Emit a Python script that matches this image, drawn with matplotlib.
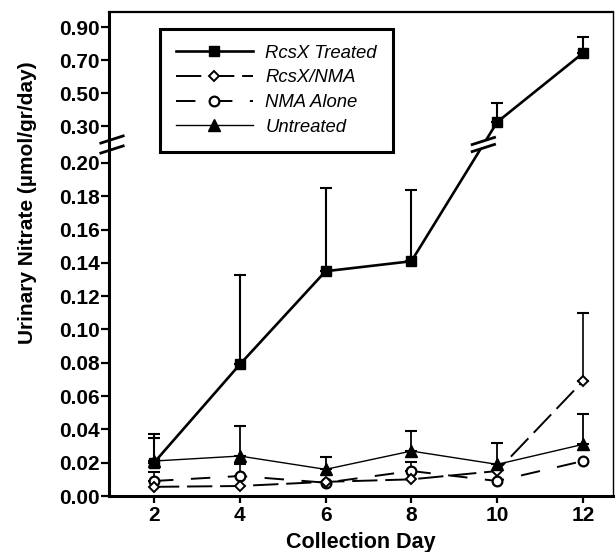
import numpy as np
import matplotlib
matplotlib.use("Agg")
import matplotlib.pyplot as plt
from matplotlib.lines import Line2D
from matplotlib.patches import Polygon

plt.rcParams['font.family'] = ['Liberation Sans', 'DejaVu Sans']

nan = np.nan

# values (upper end of each error bar given as *_top)
days = [2, 4, 6, 8, 10, 12]
treated = [0.020, 0.079, 0.135, 0.141, 0.324, 0.742]
treated_top = [0.037, 0.133, 0.185, 0.184, 0.440, 0.840]
rcsx_nma = [0.0055, 0.006, 0.0085, 0.010, 0.015, 0.069]
rcsx_nma_top = [nan, nan, nan, nan, nan, 0.110]
nma_alone = [0.009, 0.012, 0.008, 0.015, 0.009, 0.021]
nma_alone_top = [0.0144, 0.019, nan, 0.0205, nan, nan]
untreated = [0.021, 0.024, 0.016, 0.027, 0.019, 0.031]
untreated_top = [0.035, 0.042, 0.0236, 0.039, 0.032, 0.049]

yticks_low = [0.00, 0.02, 0.04, 0.06, 0.08, 0.10, 0.12, 0.14, 0.16, 0.18, 0.20]
yticks_high = [0.30, 0.50, 0.70, 0.90]

# broken axis: 0-0.20 linear, squeeze 0.20-0.30 into a gap, 0.30+ at 1/10 scale
LOW, HIGH = 0.20, 0.30
GAP = 0.0222
RATIO = 0.0991


def fwd(y):
    y = np.asarray(y, dtype=float)
    mid = LOW + (y - LOW) * (GAP / (HIGH - LOW))
    up = LOW + GAP + (y - HIGH) * RATIO
    return np.where(y <= LOW, y, np.where(y < HIGH, mid, up))


def inv(t):
    t = np.asarray(t, dtype=float)
    mid = LOW + (t - LOW) * ((HIGH - LOW) / GAP)
    up = HIGH + (t - LOW - GAP) / RATIO
    return np.where(t <= LOW, t, np.where(t < LOW + GAP, mid, up))


fig = plt.figure(figsize=(6.16, 5.52), dpi=100)
ax = fig.add_axes([109/616, 1 - 496/552, 504/616, 484/552])
ax.set_yscale('function', functions=(fwd, inv))
ax.set_xlim(0.951, 12.70)
ax.set_ylim(0, 0.991)


def err(vals, tops, lw, cap):
    v = np.array(vals)
    t = np.array(tops)
    ok = ~np.isnan(t)
    d = np.array(days)[ok]
    ax.errorbar(d, v[ok], yerr=[np.zeros(ok.sum()), (t - v)[ok]], fmt='none',
                ecolor='black', elinewidth=lw, capsize=cap, capthick=1.5, zorder=2)


err(treated, treated_top, 1.5, 4.5)
err(untreated, untreated_top, 1.3, 4.5)
err(nma_alone, nma_alone_top, 1.2, 4.5)
err(rcsx_nma, rcsx_nma_top, 1.2, 4.5)

ax.plot(days, nma_alone, color='black', lw=1.4, dashes=(10, 9), marker='o', ms=7,
        mfc='white', mec='black', mew=1.6, label='NMA Alone', zorder=3)
ax.plot(days, rcsx_nma, color='black', lw=1.4, dashes=(13, 4), marker='D', ms=5.5,
        mfc='white', mec='black', mew=1.4, label='RcsX/NMA', zorder=4)
ax.plot(days, untreated, color='black', lw=1.0, marker='^', ms=8,
        mfc='black', mec='black', label='Untreated', zorder=5)
ax.plot(days, treated, color='black', lw=1.9, marker='s', ms=7.5,
        mfc='black', mec='black', label='RcsX Treated', zorder=6)

ax.set_xticks(days)
ax.set_xticklabels([str(d) for d in days])
ax.set_yticks(yticks_low + yticks_high)
ax.set_yticklabels(['%.2f' % v for v in yticks_low + yticks_high])
ax.minorticks_off()
ax.tick_params(axis='y', direction='out', length=5.8, width=1.6, pad=1, labelsize=15)
ax.tick_params(axis='x', direction='out', length=5, width=1.6, pad=2, labelsize=15)
for lab in ax.get_xticklabels() + ax.get_yticklabels():
    lab.set_fontweight('bold')

ax.spines['left'].set_linewidth(2.2)
ax.spines['bottom'].set_linewidth(2.2)
ax.spines['top'].set_linewidth(1.6)
ax.spines['right'].set_linewidth(1.0)

ax.set_xlabel('Collection Day', fontsize=15.5, fontweight='bold')
ax.set_ylabel('Urinary Nitrate (µmol/gr/day)', fontsize=15, fontweight='bold')
ax.xaxis.set_label_coords(0.5, -0.074)
ax.yaxis.set_label_coords(-0.143, 0.607)

h, l = ax.get_legend_handles_labels()
order = [l.index(n) for n in ['RcsX Treated', 'RcsX/NMA', 'NMA Alone', 'Untreated']]
leg = ax.legend([h[i] for i in order], [l[i] for i in order], loc='upper left',
                bbox_to_anchor=(0.101, 0.965), borderaxespad=0,
                prop={'style': 'italic', 'size': 13.3}, handlelength=4.2,
                handletextpad=0.66, borderpad=0.85, labelspacing=0.42,
                fancybox=False, framealpha=1, edgecolor='black', numpoints=1)
leg.get_frame().set_linewidth(2.2)

# break marks, drawn in pixel space
W, H = fig.bbox.width, fig.bbox.height


def break_mark(px, py, sep, fill):
    rise = 4.0
    if fill:
        pts = [(px - 9, py - sep - rise * 9 / 12.5), (px + 9, py - sep + rise * 9 / 12.5),
               (px + 9, py + sep + rise * 9 / 12.5), (px - 9, py + sep - rise * 9 / 12.5)]
        fig.add_artist(Polygon([(a / W, b / H) for a, b in pts], closed=True,
                               transform=fig.transFigure, fc='white', ec='none', zorder=7))
    for o in (-sep, sep):
        xs = np.array([px - 12.5, px + 12.5])
        ys = np.array([py + o - rise, py + o + rise])
        fig.add_artist(Line2D(xs / W, ys / H, transform=fig.transFigure,
                              color='black', lw=2.0, solid_capstyle='butt', zorder=8))


ymid = 0.25
# on the y axis
ax_pt = ax.transAxes.transform((0, 0))
mid_pt = ax.transData.transform((days[0], ymid))
break_mark(ax_pt[0] + 3, mid_pt[1], 5.0, False)
# on the treated line between day 8 and day 10
p0 = ax.transData.transform((days[3], treated[3]))
p1 = ax.transData.transform((days[4], treated[4]))
fr = (mid_pt[1] - p0[1]) / (p1[1] - p0[1])
break_mark(p0[0] + fr * (p1[0] - p0[0]), mid_pt[1], 3.5, True)

fig.savefig('out.png', dpi=100)
